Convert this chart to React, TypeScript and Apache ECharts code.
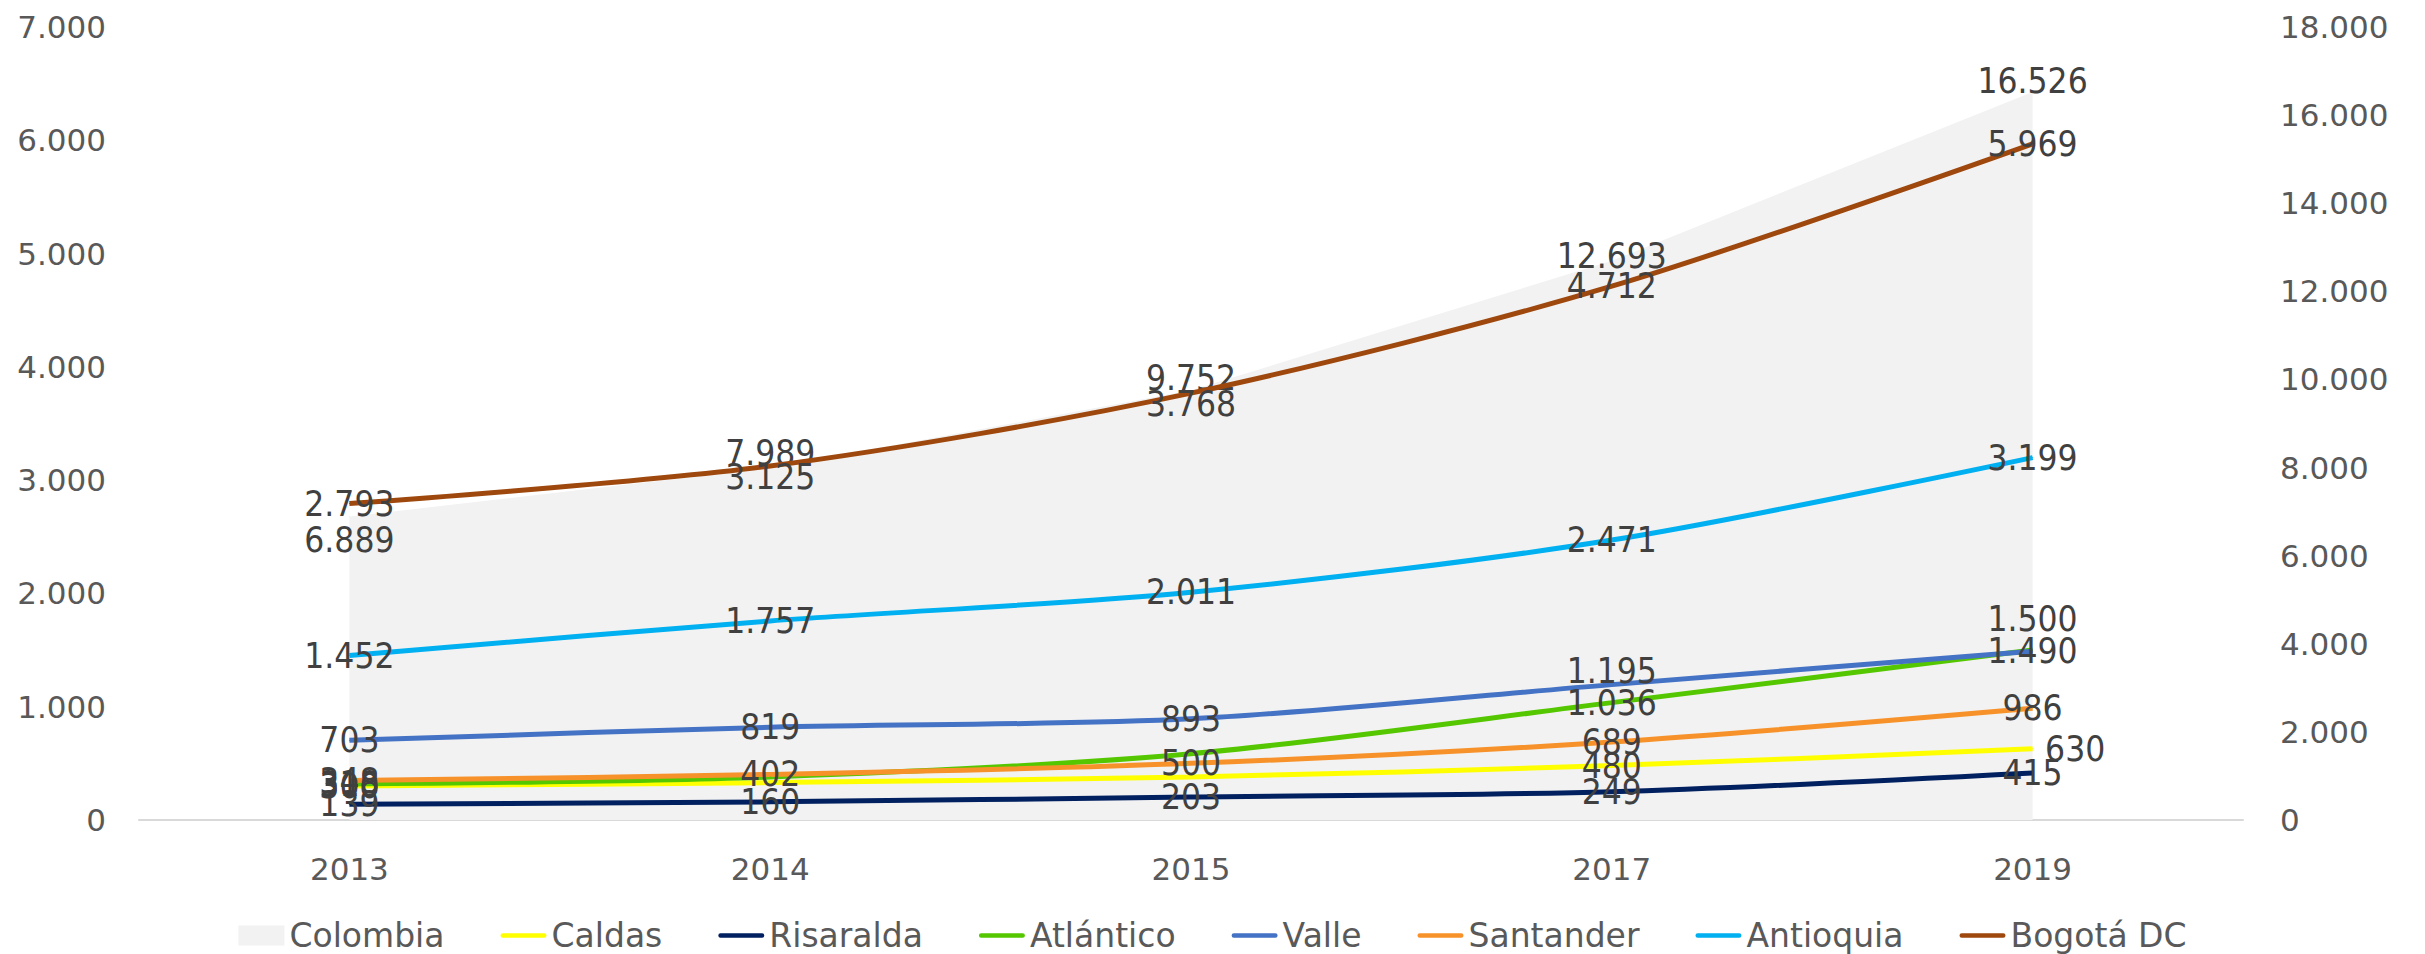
import React, { useEffect, useRef } from "react";
import * as echarts from "echarts";

const years = ["2013", "2014", "2015", "2017", "2019"];
const colombia = [6889, 7989, 9752, 12693, 16526];
const caldas = [300, 330, 380, 480, 630];
const risaralda = [139, 160, 203, 249, 415];
const atlantico = [318, 380, 585, 1036, 1500];
const valle = [703, 819, 893, 1195, 1490];
const santander = [348, 402, 500, 689, 986];
const antioquia = [1452, 1757, 2011, 2471, 3199];
const bogota = [2793, 3125, 3768, 4712, 5969];
const leftTicks = { min: 0, max: 7000, interval: 1000 };
const rightTicks = { min: 0, max: 18000, interval: 2000 };

const fmt = (v: number) => String(v).replace(/\B(?=(\d{3})+(?!\d))/g, ".");

const LABEL_FONT = '"DejaVu Sans Condensed", "DejaVu Sans", sans-serif';
const AXIS_FONT = '"DejaVu Sans", sans-serif';
const LINE_ICON = "path://M2.5,0 L47.5,0 A2.5,2.5 0 0 1 47.5,5 L2.5,5 A2.5,2.5 0 0 1 2.5,0 Z";

// label placement tweaks (vertical pixel nudges), per point
const zero = [0, 0, 0, 0, 0];
const colombiaNudge = [23, -15, -12, -5, -11];
const bogotaNudge = [0, 11, 11, 0, 0];
const valleNudge = [0, 0, 0, -14, 0];
const atlanticoNudge = [0, 0, 0, 0, -31];

const labelBase = {
  show: true,
  position: "inside",
  color: "#404040",
  fontSize: 35,
  fontFamily: LABEL_FONT,
  formatter: (p: any) => fmt(p.value),
};

function lineSeries(
  name: string,
  values: number[],
  color: string,
  hidden: number[] = [],
  nudge: number[] = zero,
  special: Record<number, any> = {}
) {
  return {
    name,
    type: "line",
    yAxisIndex: 0,
    smooth: 0.3,
    symbol: "circle",
    symbolSize: 1,
    showSymbol: true,
    lineStyle: { color, width: 5 },
    itemStyle: { color },
    label: labelBase,
    labelLayout: (p: any) => ({ hideOverlap: false, dy: nudge[p.dataIndex] || 0 }),
    data: values.map((v, i) => {
      if (hidden.includes(i)) return { value: v, label: { show: false } };
      if (special[i]) return { value: v, label: special[i] };
      return v;
    }),
    z: 3,
  };
}

export default function App() {
  const ref = useRef<HTMLDivElement>(null);
  useEffect(() => {
    document.body.style.margin = "0";
    if (!ref.current) return;
    const chart = echarts.init(ref.current, null, { renderer: "svg" });
    const lineNames = ["Caldas", "Risaralda", "Atlántico", "Valle", "Santander", "Antioquia", "Bogotá DC"];
    const option: any = {
      animation: false,
      backgroundColor: "#ffffff",
      grid: { left: 139, right: 182, top: 27, bottom: 134, containLabel: false },
      legend: {
        left: "center",
        top: 914,
        itemWidth: 46,
        itemHeight: 20,
        itemGap: 56,
        textStyle: { color: "#595959", fontSize: 33, fontFamily: AXIS_FONT },
        data: [
          { name: "Colombia", icon: "rect", itemStyle: { color: "#f2f2f2" } },
          ...lineNames.map((n) => ({ name: n, icon: LINE_ICON })),
        ],
      },
      xAxis: {
        type: "category",
        data: years,
        boundaryGap: true,
        axisLine: { lineStyle: { color: "#d9d9d9", width: 2 } },
        axisTick: { show: false },
        axisLabel: { color: "#595959", fontSize: 31, fontFamily: AXIS_FONT, margin: 33 },
        splitLine: { show: false },
      },
      yAxis: [
        {
          type: "value",
          ...leftTicks,
          axisLine: { show: false },
          axisTick: { show: false },
          splitLine: { show: false },
          axisLabel: {
            color: "#595959",
            fontSize: 31,
            fontFamily: AXIS_FONT,
            margin: 33,
            formatter: (v: number) => fmt(v),
          },
        },
        {
          type: "value",
          position: "right",
          ...rightTicks,
          axisLine: { show: false },
          axisTick: { show: false },
          splitLine: { show: false },
          axisLabel: {
            color: "#595959",
            fontSize: 31,
            fontFamily: AXIS_FONT,
            margin: 37,
            formatter: (v: number) => fmt(v),
          },
        },
      ],
      series: [
        {
          name: "Colombia",
          type: "line",
          yAxisIndex: 1,
          symbol: "circle",
          symbolSize: 1,
          showSymbol: true,
          lineStyle: { width: 0, color: "#f2f2f2" },
          itemStyle: { color: "#f2f2f2" },
          areaStyle: { color: "#f2f2f2", opacity: 1 },
          label: labelBase,
          labelLayout: (p: any) => ({ hideOverlap: false, dy: colombiaNudge[p.dataIndex] || 0 }),
          data: colombia,
          z: 1,
        },
        lineSeries("Caldas", caldas, "#ffff00", [1, 2], zero, {
          4: { position: "right", distance: 12 },
        }),
        lineSeries("Risaralda", risaralda, "#002060"),
        lineSeries("Atlántico", atlantico, "#55c700", [1, 2], atlanticoNudge),
        lineSeries("Valle", valle, "#4472c4", [], valleNudge),
        lineSeries("Santander", santander, "#f7922a"),
        lineSeries("Antioquia", antioquia, "#00b0f0"),
        lineSeries("Bogotá DC", bogota, "#9e480e", [], bogotaNudge),
      ],
    };
    chart.setOption(option);
    return () => chart.dispose();
  }, []);
  return <div ref={ref} style={{ width: 2425, height: 954 }} />;
}
